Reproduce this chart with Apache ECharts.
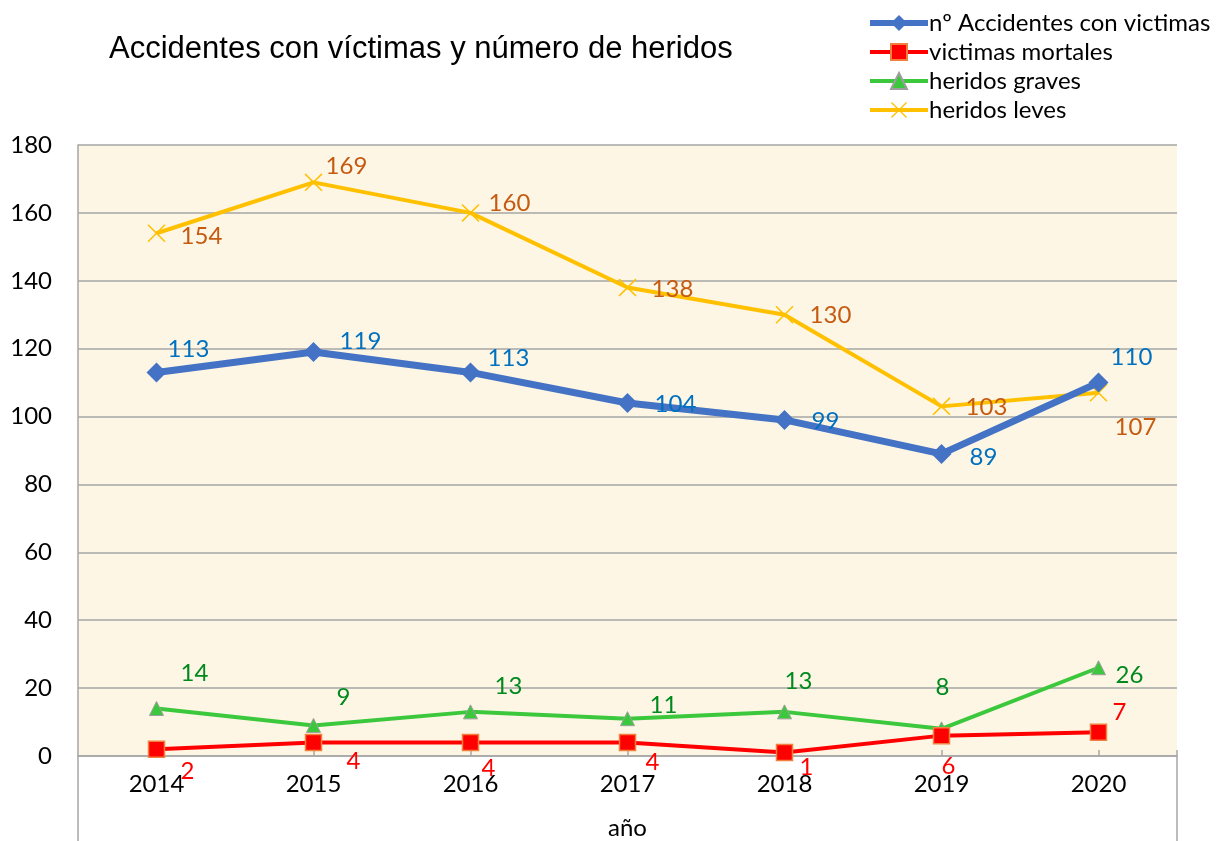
<!DOCTYPE html>
<html>
<head>
<meta charset="utf-8">
<script src="https://cdn.jsdelivr.net/npm/echarts@6/dist/echarts.min.js"></script>
<style>
  html, body { margin: 0; padding: 0; background: #fff; }
  #chart { width: 1229px; height: 841px; }
</style>
</head>
<body>
<div id="chart"></div>
<script>
// values
const years = ['2014', '2015', '2016', '2017', '2018', '2019', '2020'];
const accidentes = [113, 119, 113, 104, 99, 89, 110];
const mortales = [2, 4, 4, 4, 1, 6, 7];
const graves = [14, 9, 13, 11, 13, 8, 26];
const leves = [154, 169, 160, 138, 130, 103, 107];
const yTicks = [0, 20, 40, 60, 80, 100, 120, 140, 160, 180];

// label placement, per point (dx, dy from the marker)
const offAcc = [[32, -23], [47, -11], [38, -14], [48, 1], [41, 1], [42, 3], [33, -25]];
const offMor = [[31, 22], [40, 19], [18, 26], [25, 20], [22, 15], [7, 31], [21, -20]];
const offGra = [[38, -35], [30, -28], [38, -26], [36, -13], [14, -31], [1, -42], [31, 8]];
const offLev = [[45, 3], [33, -16], [39, -10], [45, 2], [46, 1], [45, 1], [37, 34]];

const FONT = 'Lato, "Noto Sans", sans-serif';
const crossPath = 'path://M0,0.6L0.6,0L5,4.4L9.4,0L10,0.6L5.6,5L10,9.4L9.4,10L5,5.6L0.6,10L0,9.4L4.4,5Z';

function withLabels(values, offsets) {
    return values.map(function (v, i) {
        return {
            value: v,
            label: { offset: offsets[i] }
        };
    });
}

let chart = echarts.init(document.getElementById('chart'));

let labelBase = function (color) {
    return {
        show: true,
        position: 'inside',
        color: color,
        fontSize: 24,
        fontFamily: FONT
    };
};

let option = {
    animation: false,
    title: {
        text: 'Accidentes con víctimas y número de heridos',
        left: 104,
        top: 29,
        textStyle: { fontFamily: '"Liberation Sans", Arial, sans-serif', fontSize: 31, fontWeight: 'normal', color: '#000' }
    },
    legend: {
        orient: 'vertical',
        left: 862,
        top: 6,
        itemWidth: 58,
        itemHeight: 20,
        itemGap: 5,
        textStyle: { fontFamily: FONT, fontSize: 24, lineHeight: 24, color: '#000', padding: [0, 0, 0, -4] },
        data: [
            { name: 'nº Accidentes con victimas', lineStyle: { width: 6 } },
            { name: 'victimas mortales', lineStyle: { width: 4 } },
            { name: 'heridos graves', lineStyle: { width: 4 } },
            { name: 'heridos leves', lineStyle: { width: 4 } }
        ]
    },
    grid: {
        left: 78, right: 52, top: 145, bottom: 85,
        outerBoundsMode: 'none',
        show: true,
        backgroundColor: '#FEF6E4',
        borderWidth: 0
    },
    xAxis: {
        type: 'category',
        data: years,
        boundaryGap: true,
        name: 'año',
        nameLocation: 'middle',
        nameGap: 60,
        nameTextStyle: { fontFamily: FONT, fontSize: 24, color: '#000' },
        axisLine: { lineStyle: { color: '#A6A6A6', width: 1.5 } },
        axisTick: { show: true, alignWithLabel: true, inside: true, length: 6, lineStyle: { color: '#A6A6A6', width: 1.5 } },
        axisLabel: { fontFamily: FONT, fontSize: 24, color: '#000', margin: 16 }
    },
    yAxis: {
        type: 'value',
        min: yTicks[0],
        max: yTicks[yTicks.length - 1],
        interval: 20,
        axisLine: { show: true, lineStyle: { color: '#A6A6A6', width: 1.5 } },
        axisTick: { show: false },
        axisLabel: { fontFamily: FONT, fontSize: 24, color: '#000', margin: 26 },
        splitLine: { lineStyle: { color: '#A6A6A6', width: 1.5 } }
    },
    graphic: [
        { type: 'line', shape: { x1: 78, y1: 756, x2: 78, y2: 841 }, style: { stroke: '#A6A6A6', lineWidth: 1.5 } },
        { type: 'line', shape: { x1: 1177, y1: 750, x2: 1177, y2: 841 }, style: { stroke: '#A6A6A6', lineWidth: 1.5 } }
    ],
    series: [
        {
            name: 'heridos leves',
            type: 'line',
            data: withLabels(leves, offLev),
            symbol: crossPath,
            symbolSize: 18,
            itemStyle: { color: '#FFC000' },
            lineStyle: { color: '#FFC000', width: 4 },
            label: labelBase('#C55A11'),
            z: 2
        },
        {
            name: 'nº Accidentes con victimas',
            type: 'line',
            data: withLabels(accidentes, offAcc),
            symbol: 'diamond',
            symbolSize: 20,
            itemStyle: { color: '#4472C4' },
            lineStyle: { color: '#4472C4', width: 7 },
            label: labelBase('#0070C0'),
            z: 3
        },
        {
            name: 'heridos graves',
            type: 'line',
            data: withLabels(graves, offGra),
            symbol: 'triangle',
            symbolSize: 14,
            itemStyle: { color: '#3CC83C', borderColor: '#9E9E9E', borderWidth: 1 },
            lineStyle: { color: '#3CC83C', width: 4 },
            label: labelBase('#008A1E'),
            z: 4
        },
        {
            name: 'victimas mortales',
            type: 'line',
            data: withLabels(mortales, offMor),
            symbol: 'rect',
            symbolSize: 16,
            itemStyle: { color: '#FF0000', borderColor: '#F08040', borderWidth: 1.5 },
            lineStyle: { color: '#FF0000', width: 4 },
            label: labelBase('#FF0000'),
            z: 5
        }
    ]
};

chart.setOption(option);
</script>
</body>
</html>
